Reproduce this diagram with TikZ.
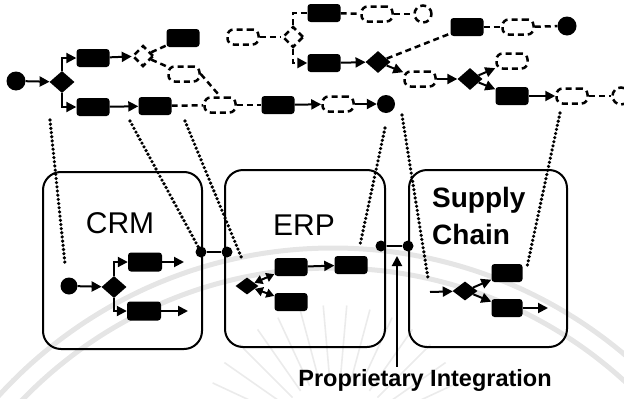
\documentclass[tikz,border=0pt]{standalone}
\usepackage{fontspec}
\setmainfont{Liberation Sans}
\usetikzlibrary{shapes.geometric,arrows.meta}

\begin{document}
\begin{tikzpicture}[x=1pt,y=-1pt,
  act/.style={fill=black,rounded corners=3pt,minimum width=33pt,minimum height=18pt,inner sep=0pt},
  dact/.style={draw,line width=2.5pt,dash pattern=on 6pt off 4pt,rounded corners=6pt,minimum width=31pt,minimum height=15pt,inner sep=0pt},
  gw/.style={diamond,fill=black,minimum width=25pt,minimum height=22pt,inner sep=0pt},
  dgw/.style={diamond,draw,line width=2.5pt,dash pattern=on 6pt off 4pt,minimum width=21pt,minimum height=21pt,inner sep=0pt},
  ev/.style={circle,fill=black,minimum size=19pt,inner sep=0pt},
  dev/.style={circle,draw,line width=2.5pt,dash pattern=on 6pt off 4pt,minimum size=17pt,inner sep=0pt},
  dot/.style={circle,fill=black,minimum size=11pt,inner sep=0pt},
  flow/.style={line width=2pt,-{Triangle[length=10pt,width=10pt]}},
  biflow/.style={line width=2pt,{Triangle[length=8pt,width=9pt]}-{Triangle[length=8pt,width=9pt]}},
  dflow/.style={line width=2.5pt,dash pattern=on 6pt off 4pt},
  map/.style={line width=3.6pt,dash pattern=on 0pt off 4.2pt,line cap=round},
  sys/.style={draw,line width=2pt,rounded corners=18pt,inner sep=0pt},
  lbl/.style={inner sep=0pt,font=\fontsize{30}{36}\selectfont},
]
\useasboundingbox (0,0) rectangle (624,399);

% faint background seal
\begin{scope}[gray!20,line width=5pt]
  \draw (333,700) circle[radius=452pt];
  \draw (333,700) circle[radius=432pt];
\end{scope}
\begin{scope}[shift={(335,440)},gray!16,line width=1.6pt]
  \foreach \a in {205,215,...,335} \draw (\a:60) -- (\a:135);
\end{scope}

% ---------- process model (top) ----------
\node[ev] (s0) at (16,81) {};
\node[gw] (g0) at (62,82) {};
\node[act] (a1) at (93,58) {};
\node[act] (a2) at (93,107) {};
\node[act] (a3) at (155,106) {};
\node[dgw] (g1) at (143,56) {};
\node[act] (a5) at (183,38) {};
\node[dact] (d1) at (184,74) {};
\node[dact] (d2) at (220,105) {};
\node[act] (a4) at (278,105) {};
\node[dact] (d3) at (338,104) {};
\node[ev,minimum size=18pt] (e1) at (386,104) {};

\draw[flow] (s0) -- (g0);
\draw[flow] (g0.north) |- (a1.west);
\draw[flow] (g0.south) |- (a2.west);
\draw[flow] (a2) -- (a3);
\draw[flow] (a1) -- (g1);
\draw[dflow] (g1) -- (a5);
\draw[dflow] (g1) -- (d1);
\draw[dflow] (d1.east) -- (d2.north);
\draw[dflow] (a3) -- (d2);
\draw[dflow] (d2) -- (a4);
\draw[flow] (a4) -- (d3);
\draw[flow] (d3) -- (e1);

\node[dact] (d4) at (243,37) {};
\node[dgw] (g2) at (293,37) {};
\node[act] (a6) at (324,13) {};
\node[act] (a7) at (324,63) {};
\node[dact] (d5) at (377,14) {};
\node[dev] (e2) at (423,14) {};
\draw[dflow] (d4) -- (g2);
\draw[dflow] (g2.north) |- (a6.west);
\draw[dflow,-{Triangle[length=10pt,width=10pt]}] (g2.south) |- (a7.west);
\draw[dflow] (a6) -- (d5);
\draw[dflow] (d5) -- (e2);

\node[gw] (g3) at (378,62) {};
\node[act] (a8) at (467,27) {};
\node[dact] (d6) at (518,27) {};
\node[ev] (e3) at (567,26) {};
\node[dact] (d7) at (420,79) {};
\node[gw] (g4) at (470,79) {};
\node[dact] (d8) at (512,61) {};
\node[act] (a9) at (512,96) {};
\node[dact] (d9) at (572,96) {};
\node[dev] (e4) at (621,96) {};
\draw[flow] (a7) -- (g3);
\draw[dflow] (g3) -- (a8);
\draw[dflow] (a8) -- (d6);
\draw[dflow] (d6) -- (e3);
\draw[flow] (g3) -- (d7);
\draw[flow] (d7) -- (g4);
\draw[flow] (g4) -- (d8);
\draw[flow] (g4) -- (a9);
\draw[flow] (a9) -- (d9);
\draw[dflow] (d9) -- (e4);

% ---------- application systems (bottom) ----------
\node[sys,minimum width=159pt,minimum height=177pt] (crm) at (122.5,260.5) {};
\node[sys,minimum width=160pt,minimum height=177pt] (erp) at (305,258.5) {};
\node[sys,minimum width=158pt,minimum height=177pt] (sc) at (488,258.5) {};

\node[lbl,anchor=base] (crmt) at (120,233) {CRM};
\node[lbl,anchor=base] (erpt) at (304,235) {ERP};
\node[inner sep=0pt,anchor=north west,align=left,font=\bfseries\fontsize{28}{37}\selectfont] (sct) at (432,187) {Supply\\Chain};

% interfaces between the systems
\node[dot] (j1) at (201,252) {};
\node[dot] (j2) at (227,252) {};
\node[dot] (j3) at (381,246) {};
\node[dot] (j4) at (408,246) {};
\draw[line width=2pt] (j1) -- (j2);
\draw[line width=2pt] (j3) -- (j4);

\node[inner sep=2pt,anchor=base,font=\bfseries\fontsize{23.5}{28}\selectfont] (pi) at (425,386) {Proprietary Integration};
\coordinate (pt) at (397,256);
\draw[flow] (pt |- pi.north) -- (pt);

% CRM fragment
\node[ev,minimum size=17pt] (c0) at (69,286) {};
\node[gw] (cg) at (114,287) {};
\node[act,minimum width=34pt,minimum height=19pt] (ca1) at (145,262) {};
\node[act,minimum width=34pt,minimum height=19pt] (ca2) at (144,311) {};
\coordinate (co1) at (184,262);
\coordinate (co2) at (188,311);
\draw[flow] (c0) -- (cg);
\draw[flow] (cg.north) |- (ca1.west);
\draw[flow] (cg.south) |- (ca2.west);
\draw[flow] (ca1) -- (co1);
\draw[flow] (ca2) -- (co2);

% ERP fragment
\node[gw,minimum width=23pt,minimum height=17pt] (eg) at (247,286) {};
\node[act] (ea1) at (291,267) {};
\node[act] (ea2) at (291,302) {};
\node[act] (ea3) at (351,265) {};
\draw[biflow] (eg) -- (ea1);
\draw[biflow] (eg) -- (ea2);
\draw[flow] (ea1) -- (ea3);

% Supply chain fragment
\coordinate (si) at (430,292);
\node[gw,minimum width=25pt,minimum height=19pt] (sg) at (465,291) {};
\node[act,minimum width=31pt] (sa1) at (507,273) {};
\node[act,minimum width=31pt] (sa2) at (507,308) {};
\coordinate (so) at (548,308);
\draw[flow] (si) -- (sg);
\draw[flow] (sg) -- (sa1);
\draw[flow] (sg) -- (sa2);
\draw[flow] (sa2) -- (so);

% dotted mappings from the process model into the systems
\coordinate (m1a) at (50,120);  \coordinate (m1b) at (65,264);
\coordinate (m2a) at (130,121);
\coordinate (m3a) at (185,121); \coordinate (m3b) at (242,259);
\coordinate (m4a) at (385,128); \coordinate (m4b) at (360,245);
\coordinate (m5a) at (402,115); \coordinate (m5b) at (428,278);
\coordinate (m6a) at (560,113); \coordinate (m6b) at (527,267);
\draw[map] (m1a) -- (m1b);
\draw[map] (m2a) -- (j1);
\draw[map] (m3a) -- (m3b);
\draw[map] (m4a) -- (m4b);
\draw[map] (m5a) -- (m5b);
\draw[map] (m6a) -- (m6b);
\end{tikzpicture}
\end{document}
